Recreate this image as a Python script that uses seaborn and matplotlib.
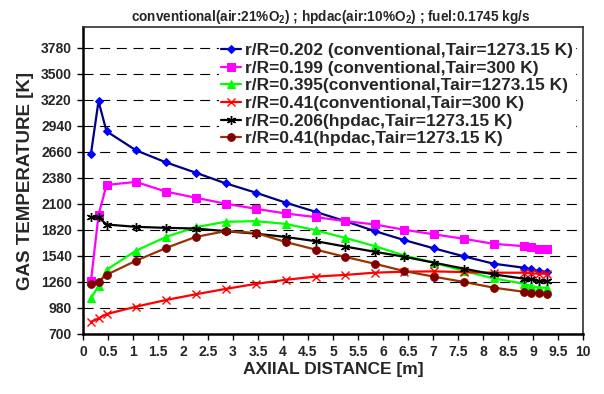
import matplotlib
matplotlib.use("Agg")
import matplotlib.pyplot as plt
import seaborn as sns
import pandas as pd

sns.set_theme(style="white")
plt.rcParams['font.family'] = ['Liberation Sans', 'DejaVu Sans']
plt.rcParams['font.weight'] = 'bold'
plt.rcParams['mathtext.fontset'] = 'custom'
plt.rcParams['mathtext.rm'] = 'Liberation Sans:bold'
plt.rcParams['mathtext.bf'] = 'Liberation Sans:bold'

# axial distance [m]
x_pos = [0.16, 0.31, 0.47, 1.06, 1.66, 2.25, 2.85, 3.45, 4.05, 4.65,
         5.24, 5.83, 6.42, 7.02, 7.62, 8.21, 8.81, 8.96, 9.11, 9.27]

conv_202_1273 = [2640, 3205, 2880, 2675, 2545, 2435, 2320, 2220, 2112, 2013,
                 1913, 1806, 1709, 1619, 1533, 1454, 1411, 1393, 1375, 1364]
conv_199_300 = [1269, 1977, 2302, 2335, 2230, 2165, 2100, 2046, 1995, 1956,
                1913, 1877, 1820, 1770, 1722, 1668, 1643, 1632, 1614, 1614]
conv_395_1273 = [1081, 1215, 1388, 1594, 1742, 1847, 1905, 1912, 1883, 1815,
                 1732, 1644, 1543, 1465, 1375, 1296, 1239, 1214, 1196, 1196]
conv_41_300 = [828, 864, 911, 991, 1063, 1124, 1182, 1236, 1280, 1315,
               1333, 1357, 1368, 1371, 1364, 1357, 1357, 1350, 1346, 1346]
hpdac_206_1273 = [1955, 1955, 1876, 1851, 1840, 1833, 1804, 1778, 1742, 1697,
                  1639, 1583, 1529, 1465, 1400, 1339, 1293, 1285, 1267, 1267]
hpdac_41_1273 = [1236, 1262, 1334, 1486, 1623, 1742, 1804, 1786, 1688, 1606,
                 1528, 1454, 1375, 1314, 1257, 1196, 1152, 1142, 1135, 1124]

labels = ["r/R=0.202 (conventional,Tair=1273.15 K)",
          "r/R=0.199 (conventional,Tair=300 K)",
          "r/R=0.395(conventional,Tair=1273.15 K)",
          "r/R=0.41(conventional,Tair=300 K)",
          "r/R=0.206(hpdac,Tair=1273.15 K)",
          "r/R=0.41(hpdac,Tair=1273.15 K)"]
series = [conv_202_1273, conv_199_300, conv_395_1273, conv_41_300,
          hpdac_206_1273, hpdac_41_1273]

y_ticks = [700, 980, 1260, 1540, 1820, 2100, 2380, 2660, 2940, 3220, 3500, 3780]
x_ticks = [0, 0.5, 1, 1.5, 2, 2.5, 3, 3.5, 4, 4.5, 5, 5.5, 6, 6.5, 7, 7.5,
           8, 8.5, 9, 9.5, 10]
x_ticklabels = ["0", "0.5", "1", "1.5", "2", "2.5", "3", "3.5", "4", "4.5", "5",
                "5.5", "6", "6.5", "7", "7.5", "8", "8.5", "9", "9.5", "10"]

styles = [
    dict(color="#000080", marker="D", markerfacecolor="#0000FF", markeredgecolor="#0000FF", markersize=4.5),
    dict(color="#FF00FF", marker="s", markerfacecolor="#FF00FF", markeredgecolor="#FF00FF", markersize=5.5),
    dict(color="#00FF00", marker="^", markerfacecolor="#00FF00", markeredgecolor="#00FF00", markersize=6),
    dict(color="#FF0000", marker="x", markerfacecolor="#FF0000", markeredgecolor="#FF0000", markersize=5.5, markeredgewidth=1.0),
    dict(color="#000000", marker=(6, 2, 0), markerfacecolor="#000000", markeredgecolor="#000000", markersize=6.5, markeredgewidth=1.0),
    dict(color="#993300", marker="o", markerfacecolor="#800000", markeredgecolor="#800000", markersize=5.5),
]

fig = plt.figure(figsize=(6.04, 3.94), dpi=100)
ax = fig.add_axes([83 / 604, 1 - 333.7 / 394, 500 / 604, (333.7 - 27.3) / 394])

for vals, lab, st in zip(series, labels, styles):
    df = pd.DataFrame({"x": x_pos, "y": vals})
    sns.lineplot(data=df, x="x", y="y", ax=ax, label=lab, linewidth=1.6,
                 sort=False, estimator=None, **st)

ax.set_xlim(0, 10)
ax.set_ylim(700, 4000)
ax.set_xticks(x_ticks)
ax.set_xticklabels(x_ticklabels)
ax.set_yticks(y_ticks)
ax.set_yticklabels([str(v) for v in y_ticks])
ax.tick_params(axis="both", which="major", direction="out", length=4, width=1.0,
               color="black", labelsize=10, pad=4, bottom=True, left=True)
for lab in ax.get_xticklabels() + ax.get_yticklabels():
    lab.set_fontweight("bold")

ax.yaxis.grid(True, color="black", linestyle=(0, (9, 6)), linewidth=0.8)
ax.xaxis.grid(False)
ax.set_axisbelow(True)

for side in ["left", "bottom"]:
    ax.spines[side].set_color("black")
    ax.spines[side].set_linewidth(1.8)
for side in ["top", "right"]:
    ax.spines[side].set_color("#303030")
    ax.spines[side].set_linewidth(1.2)

ax.set_xlabel("AXIIAL DISTANCE [m]", fontsize=12.5, fontweight="bold", labelpad=2)
ax.set_ylabel("GAS TEMPERATURE [K]", fontsize=13.5, fontweight="bold", labelpad=5)

fig.text(331 / 604, 1 - 17 / 394,
         r"conventional(air:21%O$_\mathbf{2}$) ; hpdac(air:10%O$_\mathbf{2}$) ; fuel:0.1745 kg/s",
         ha="center", va="center", fontsize=9.8, fontweight="bold")

leg = ax.legend(loc="upper right", bbox_to_anchor=(0.985, 0.958), frameon=True,
                fontsize=12.5, labelspacing=0.145, handlelength=1.1, handletextpad=0.25,
                borderpad=0.15, borderaxespad=0, numpoints=1)
leg.get_frame().set_facecolor("white")
leg.get_frame().set_edgecolor("none")
leg.get_frame().set_alpha(1.0)
for t in leg.get_texts():
    t.set_fontweight("bold")

fig.savefig("out.png", dpi=100)
